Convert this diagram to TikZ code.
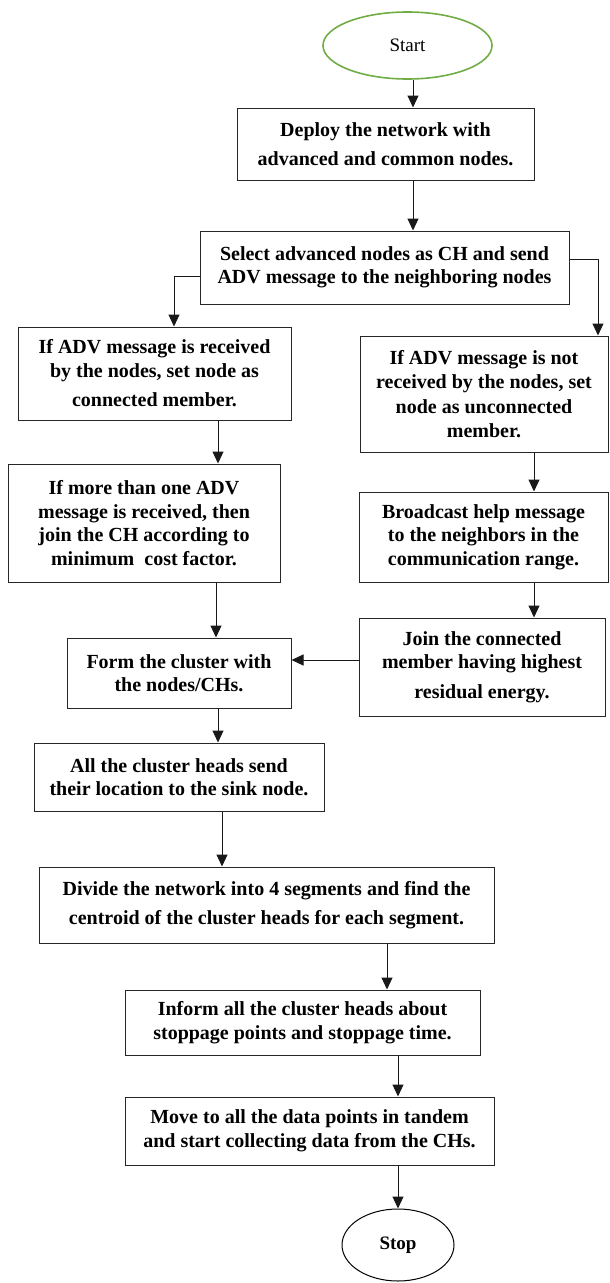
\documentclass[tikz,border=0pt]{standalone}
\usepackage{fontspec}
\setmainfont{Liberation Serif}
\usetikzlibrary{shapes.geometric,arrows.meta}
\definecolor{startgreen}{RGB}{112,173,71}
\begin{document}
\begin{tikzpicture}[x=1pt,y=-1pt,
  box/.style={draw=black!85,line width=1pt,inner sep=0pt,align=center,
    font=\fontsize{20}{23.5}\selectfont\bfseries},
  term/.style={ellipse,draw,inner sep=0pt,font=\fontsize{19}{22}\selectfont},
  arr/.style={line width=1pt,draw=black!90,-{Triangle[length=12pt,width=11pt]}}]
\useasboundingbox (0,0) rectangle (610,1283);

\node[term,draw=startgreen,line width=1.6pt,minimum width=169pt,minimum height=67pt] (start) at (407.5,45.5) {Start};
\node[box,minimum width=297pt,minimum height=72pt] (deploy) at (385.5,144) {Deploy the network with\\[6pt]advanced and common nodes.};
\node[box,minimum width=369pt,minimum height=73pt] (select) at (384.5,267.5) {Select advanced nodes as CH and send\\ADV message to the neighboring nodes};
\node[box,minimum width=273pt,minimum height=93pt] (l1) at (154.5,373.5) {If ADV message is received\\by the nodes, set node as\\[6pt]connected member.};
\node[box,minimum width=248pt,minimum height=116pt] (r1) at (484,394) {If ADV message is not\\received by the nodes, set\\[2pt]node as unconnected\\member.};
\node[box,minimum width=272pt,minimum height=118pt] (l2) at (144,523) {If more than one ADV\\message is received, then\\join the CH according to\\minimum\ \ cost factor.};
\node[box,minimum width=249pt,minimum height=90pt] (r2) at (483.5,537) {Broadcast help message\\to the neighbors in the\\communication range.};
\node[box,minimum width=246pt,minimum height=98pt] (r3) at (482,667) {Join the connected\\member having highest\\[6pt]residual energy.};
\node[box,minimum width=224pt,minimum height=70pt] (form) at (179,673) {Form the cluster with\\the nodes/CHs.};
\node[box,minimum width=290pt,minimum height=68pt] (all) at (179,777) {All the cluster heads send\\their location to the sink node.};
\node[box,minimum width=455pt,minimum height=76pt] (divide) at (266.5,905) {Divide the network into 4 segments and find the\\[6pt]centroid of the cluster heads for each segment.};
\node[box,minimum width=355pt,minimum height=65pt] (inform) at (302.5,1022.5) {Inform all the cluster heads about\\stoppage points and stoppage time.};
\node[box,minimum width=369pt,minimum height=68pt] (move) at (309.5,1131) {Move to all the data points in tandem\\and start collecting data from the CHs.};
\node[term,line width=1pt,minimum width=112pt,minimum height=72pt,font=\fontsize{19}{22}\selectfont\bfseries] (stop) at (398,1245) {Stop};

\draw[arr] (start.south -| 413,0) -- (deploy.north -| 413,0);
\draw[arr] (deploy.south -| 413,0) -- (select.north -| 413,0);
\draw[arr] (select.west |- 0,276) -| (l1.north -| 174,0);
\draw[arr] (select.east |- 0,259) -| (r1.north -| 598,0);
\draw[arr] (l1.south -| 218,0) -- (l2.north -| 218,0);
\draw[arr] (r1.south -| 534,0) -- (r2.north -| 534,0);
\draw[arr] (r2.south -| 534,0) -- (r3.north -| 534,0);
\draw[arr] (l2.south -| 216,0) -- (form.north -| 216,0);
\draw[arr] (r3.west |- 0,660) -- (form.east |- 0,660);
\draw[arr] (form.south -| 218,0) -- (all.north -| 218,0);
\draw[arr] (all.south -| 222,0) -- (divide.north -| 222,0);
\draw[arr] (divide.south -| 387,0) -- (inform.north -| 387,0);
\draw[arr] (inform.south -| 398,0) -- (move.north -| 398,0);
\draw[arr] (move.south -| 398,0) -- (stop.north);
\end{tikzpicture}
\end{document}
